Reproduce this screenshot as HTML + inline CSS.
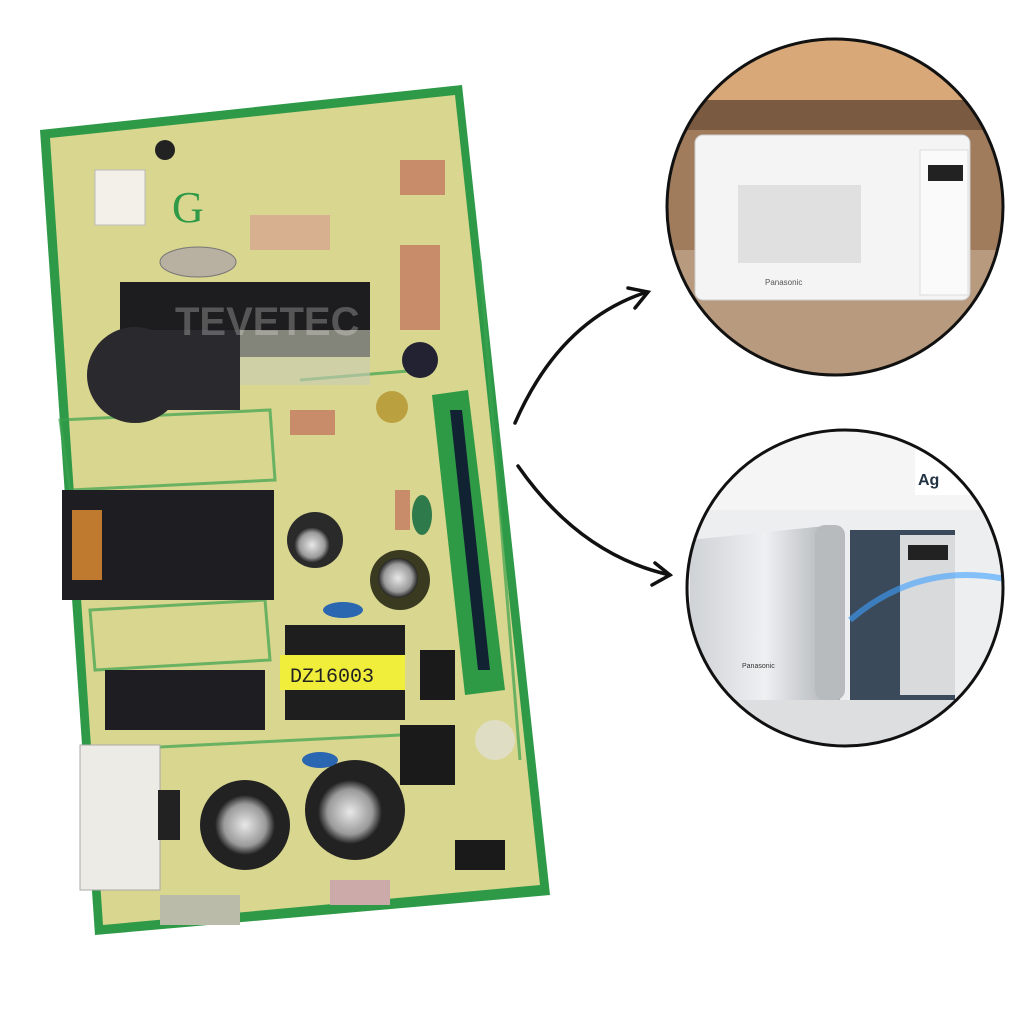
<!DOCTYPE html>
<html><head><meta charset="utf-8"><style>
html,body{margin:0;padding:0;background:#fff;width:1024px;height:1024px;overflow:hidden}
</style></head><body>
<svg width="1024" height="1024" viewBox="0 0 1024 1024" xmlns="http://www.w3.org/2000/svg">
<defs>
<clipPath id="c1"><circle cx="835" cy="207" r="168"/></clipPath>
<clipPath id="c2"><circle cx="845" cy="588" r="158"/></clipPath>
<radialGradient id="cap" cx="0.5" cy="0.5" r="0.5"><stop offset="0" stop-color="#e8e8e8"/><stop offset="0.7" stop-color="#9a9a9a"/><stop offset="1" stop-color="#222"/></radialGradient>
<linearGradient id="steel" x1="0" x2="1"><stop offset="0" stop-color="#cfd2d6"/><stop offset="0.5" stop-color="#eef0f2"/><stop offset="1" stop-color="#a8acb0"/></linearGradient>
</defs>
<polygon points="40,130 462,85 550,895 95,935" fill="#2e9a48"/>
<polygon points="50,138 455,95 540,885 103,925" fill="#d9d68f"/>
<g stroke="#3aa34f" stroke-width="3" fill="none" opacity="0.7">
<path d="M60,420 L270,410 L275,480 L70,490Z"/><path d="M90,610 L265,600 L270,660 L95,670Z"/>
<path d="M300,380 L420,370"/><path d="M100,750 L400,735"/><path d="M480,260 L520,760"/>
</g>
<rect x="95" y="170" width="50" height="55" fill="#f2f0e8" stroke="#bbb"/>
<circle cx="165" cy="150" r="10" fill="#222"/>
<text x="172" y="222" font-family="Liberation Serif,serif" font-size="44" fill="#2e9a48">G</text>
<ellipse cx="198" cy="262" rx="38" ry="15" fill="#b8b0a0" stroke="#777"/>
<rect x="120" y="282" width="250" height="75" fill="#1d1d1f"/>
<rect x="230" y="330" width="140" height="55" fill="#c9ccb8" opacity="0.6"/>
<circle cx="135" cy="375" r="48" fill="#2a2a2e"/>
<rect x="120" y="330" width="120" height="80" fill="#2a2a2e"/>
<g fill="#c88c6a">
<rect x="250" y="215" width="80" height="35" fill="#d7b090"/>
<rect x="400" y="160" width="45" height="35"/>
<rect x="400" y="245" width="40" height="85"/>
<rect x="290" y="410" width="45" height="25"/>
<rect x="395" y="490" width="15" height="40"/>
<rect x="160" y="895" width="80" height="30" fill="#bba"/>
<rect x="330" y="880" width="60" height="25" fill="#caa"/>
</g>
<circle cx="420" cy="360" r="18" fill="#223"/>
<circle cx="392" cy="407" r="16" fill="#bba040"/>
<circle cx="315" cy="540" r="28" fill="#2a2a2a"/><circle cx="312" cy="545" r="18" fill="url(#cap)"/>
<circle cx="400" cy="580" r="30" fill="#3a3a20"/><circle cx="398" cy="578" r="20" fill="url(#cap)"/>
<circle cx="245" cy="825" r="45" fill="#222"/><circle cx="245" cy="825" r="30" fill="url(#cap)"/>
<circle cx="355" cy="810" r="50" fill="#222"/><circle cx="350" cy="812" r="32" fill="url(#cap)"/>
<ellipse cx="343" cy="610" rx="20" ry="8" fill="#2b66b0"/>
<ellipse cx="320" cy="760" rx="18" ry="8" fill="#2b66b0"/>
<ellipse cx="422" cy="515" rx="10" ry="20" fill="#2f7a4a"/>
<polygon points="432,395 468,390 505,690 465,695" fill="#2f9a46"/>
<polygon points="450,410 462,410 490,670 478,670" fill="#123"/>
<rect x="62" y="490" width="212" height="110" fill="#1e1e22"/>
<rect x="72" y="510" width="30" height="70" fill="#c07a30"/>
<rect x="105" y="670" width="160" height="60" fill="#1e1e22"/>
<rect x="285" y="625" width="120" height="95" fill="#1e1e1e"/>
<rect x="280" y="655" width="125" height="35" fill="#f0ee3a"/>
<text x="290" y="682" font-family="Liberation Mono,monospace" font-size="20" fill="#222">DZ16003</text>
<rect x="420" y="650" width="35" height="50" fill="#1a1a1a"/>
<rect x="400" y="725" width="55" height="60" fill="#1a1a1a"/>
<rect x="455" y="840" width="50" height="30" fill="#1a1a1a"/>
<rect x="80" y="745" width="80" height="145" fill="#ecebe5" stroke="#aaa"/>
<rect x="158" y="790" width="22" height="50" fill="#222"/>
<circle cx="495" cy="740" r="20" fill="#e0ddc5"/>
<text x="175" y="335" font-family="Liberation Sans,sans-serif" font-size="40" font-weight="bold" fill="#ffffff" opacity="0.25">TEVETEC</text>
<g fill="none" stroke="#111" stroke-width="3.5" stroke-linecap="round">
<path d="M515,423 Q560,320 647,292"/>
<path d="M628,288 L648,292 L635,308"/>
<path d="M518,466 Q580,555 670,575"/>
<path d="M655,563 L670,575 L652,585"/>
</g>
<g clip-path="url(#c1)">
<rect x="660" y="30" width="350" height="360" fill="#a07c5c"/>
<rect x="660" y="30" width="350" height="70" fill="#d8a878"/>
<rect x="660" y="100" width="350" height="30" fill="#7a5a40"/>
<rect x="660" y="250" width="350" height="140" fill="#b89a7e"/>
<rect x="695" y="135" width="275" height="165" rx="8" fill="#f4f4f4" stroke="#ccc"/>
<rect x="738" y="185" width="123" height="78" fill="#e0e0e0"/>
<rect x="920" y="150" width="48" height="145" fill="#fafafa" stroke="#ddd"/>
<rect x="928" y="165" width="35" height="16" fill="#222"/>
<text x="765" y="285" font-family="Liberation Sans,sans-serif" font-size="8" fill="#555">Panasonic</text>
</g>
<circle cx="835" cy="207" r="168" fill="none" stroke="#111" stroke-width="3"/>
<g clip-path="url(#c2)">
<rect x="680" y="425" width="340" height="330" fill="#eceef0"/>
<rect x="680" y="430" width="340" height="80" fill="#f5f5f5"/>
<rect x="680" y="700" width="340" height="60" fill="#dcdee0"/>
<polygon points="690,540 835,525 840,700 690,700" fill="url(#steel)"/>
<rect x="815" y="525" width="30" height="175" rx="10" fill="#b8bbbe"/>
<rect x="850" y="530" width="105" height="170" fill="#3a4a5a"/>
<rect x="900" y="535" width="55" height="160" fill="#d8dadc"/>
<rect x="908" y="545" width="40" height="15" fill="#222"/>
<path d="M850,620 Q920,560 1010,580" stroke="#3ea0ff" stroke-width="6" fill="none" opacity="0.6"/>
<rect x="915" y="450" width="55" height="45" fill="#fff"/>
<text x="918" y="485" font-family="Liberation Sans,sans-serif" font-size="16" font-weight="bold" fill="#234">Ag</text>
<text x="742" y="668" font-family="Liberation Sans,sans-serif" font-size="7" fill="#333">Panasonic</text>
</g>
<circle cx="845" cy="588" r="158" fill="none" stroke="#111" stroke-width="3"/>
</svg>
</body></html>
